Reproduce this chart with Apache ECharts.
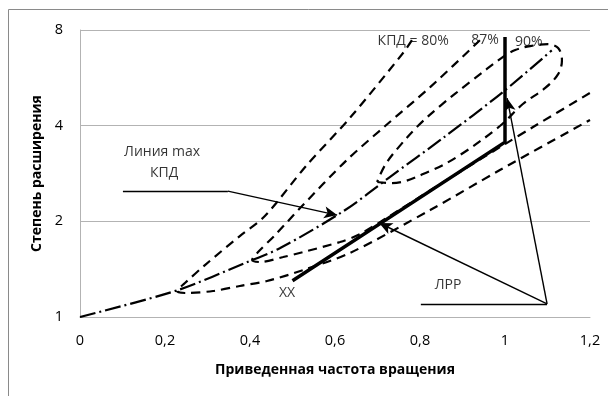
<!DOCTYPE html>
<html><head><meta charset="utf-8">
<script src="https://cdn.jsdelivr.net/npm/echarts@6/dist/echarts.min.js"></script>
<style>html,body{margin:0;padding:0;background:#fff}#c{width:608px;height:396px}</style>
</head><body><div id="c"></div>
<script>
const FONT = '"Open Sans", sans-serif';
const xAxisTitle = 'Приведенная частота вращения';
const yAxisTitle = 'Степень расширения';
const yTicks = [1, 2, 4, 8];
const xMin = 0, xMax = 1.2, xStep = 0.2;

// Линия max КПД (штрихпунктир)
const maxEffX = [0, 0.231, 0.388, 0.471, 0.624, 0.729, 0.854, 0.995, 1.11];
const maxEffY = [1.00, 1.216, 1.479, 1.648, 2.171, 2.757, 3.657, 5.105, 6.9];

// КПД = 80%
const eff80X = [0.781, 0.762, 0.635, 0.534, 0.435, 0.376, 0.294, 0.247, 0.228, 0.247, 0.313, 0.376, 0.440, 0.525, 0.635, 0.824, 0.988, 1.2];
const eff80Y = [7.43, 6.82, 4.23, 3.01, 2.078, 1.798, 1.457, 1.279, 1.207, 1.190, 1.207, 1.252, 1.298, 1.405, 1.590, 2.171, 2.900, 4.17];

// КПД = 87%
const eff87X = [0.941, 0.824, 0.718, 0.628, 0.518, 0.459, 0.419, 0.405, 0.424, 0.478, 0.525, 0.612, 0.659, 0.753, 0.871, 1.0, 1.066, 1.2];
const eff87Y = [7.43, 5.29, 3.99, 3.12, 2.202, 1.811, 1.601, 1.511, 1.489, 1.544, 1.601, 1.722, 1.824, 2.18, 2.74, 3.50, 3.96, 5.07];

// КПД = 90% (замкнутый контур)
const eff90X = [0.699, 0.734, 0.824, 0.894, 0.988, 1.042, 1.094, 1.125, 1.134, 1.125, 1.101, 1.059, 1.024, 0.998, 0.918, 0.847, 0.795, 0.748, 0.718, 0.699];
const eff90Y = [2.659, 2.639, 2.880, 3.233, 3.99, 4.68, 5.25, 5.81, 6.43, 7.02, 7.22, 7.12, 6.92, 6.62, 5.49, 4.61, 3.99, 3.40, 3.01, 2.659];

// ЛРР (линия рабочих режимов)
const lrrX = [0.5, 1.0, 1.0];
const lrrY = [1.30, 3.55, 7.6];

// Выноски (в координатах данных)
const leaderLines = [
  [[0.101, 2.49], [0.348, 2.49]],
  [[0.802, 1.099], [1.099, 1.099]]
];
const arrowLines = [
  [[0.348, 2.49], [0.605, 2.093]],
  [[1.099, 1.099], [0.704, 1.976]],
  [[1.099, 1.099], [1.005, 4.88]]
];
const labelTexts = ['Линия max', 'КПД', 'XX', 'ЛРР', 'КПД = 80%', '87%', '90%'];
const labelX = [0.193, 0.198, 0.487, 0.866, 0.784, 0.953, 1.056];
const labelY = [3.30, 2.84, 1.19, 1.261, 7.38, 7.43, 7.33];

const zip = (xs, ys) => xs.map((x, i) => [x, ys[i]]);
const dashed = { color: '#000', width: 2.2, type: [9, 6] };
const lineBase = { type: 'line', showSymbol: false, symbol: 'none', silent: true, z: 3 };

const chart = echarts.init(document.getElementById('c'), null, { renderer: 'canvas' });
chart.setOption({
  animation: false,
  backgroundColor: '#fff',
  textStyle: { fontFamily: FONT },
  graphic: [{
    type: 'rect', shape: { x: 8.5, y: 9.5, width: 700, height: 500 },
    style: { fill: 'none', stroke: '#8a8a8a', lineWidth: 1 }, silent: true, z: 0
  }],
  grid: { left: 80, right: 18, top: 30, bottom: 79 },
  xAxis: {
    type: 'value', min: xMin, max: xMax, interval: xStep,
    name: xAxisTitle, nameLocation: 'middle', nameGap: 46,
    nameTextStyle: { fontFamily: FONT, fontSize: 14, fontWeight: 'bold', color: '#000' },
    axisLine: { show: true, onZero: false, lineStyle: { color: '#b3b3b3', width: 1 } },
    axisTick: { show: false },
    splitLine: { show: false },
    axisLabel: {
      margin: 16, fontFamily: FONT, fontSize: 14.5, color: '#000',
      formatter: v => String(+(+v).toFixed(1)).replace('.', ',')
    }
  },
  yAxis: {
    type: 'log', logBase: 2, min: yTicks[0], max: yTicks[yTicks.length - 1],
    name: yAxisTitle, nameLocation: 'middle', nameGap: 30,
    nameTextStyle: { fontFamily: FONT, fontSize: 14, fontWeight: 'bold', color: '#000' },
    axisLine: { show: true, lineStyle: { color: '#b3b3b3', width: 1 } },
    axisTick: { show: false },
    splitLine: { show: true, lineStyle: { color: '#b3b3b3', width: 1 } },
    axisLabel: { margin: 17, fontFamily: FONT, fontSize: 14.5, color: '#000',
      formatter: v => yTicks.includes(Math.round(v)) ? String(Math.round(v)) : '' }
  },
  series: [
    Object.assign({}, lineBase, { name: 'max', data: zip(maxEffX, maxEffY), smooth: 0.3,
      lineStyle: { color: '#000', width: 2.2, type: [16, 4, 2, 4] } }),
    Object.assign({}, lineBase, { name: '80', data: zip(eff80X, eff80Y), smooth: 0.3, lineStyle: dashed }),
    Object.assign({}, lineBase, { name: '87', data: zip(eff87X, eff87Y), smooth: 0.3, lineStyle: dashed }),
    Object.assign({}, lineBase, { name: '90', data: zip(eff90X, eff90Y), smooth: 0.35, lineStyle: dashed }),
    Object.assign({}, lineBase, { name: 'lrr', data: zip(lrrX, lrrY), smooth: false, z: 5,
      lineStyle: { color: '#000', width: 3.5, type: 'solid', join: 'miter' } }),
    {
      type: 'line', data: [], silent: true, z: 6,
      markLine: {
        silent: true, animation: false, symbol: ['none', 'none'],
        label: { show: false },
        lineStyle: { color: '#000', width: 1.4, type: 'solid' },
        data: leaderLines.map(p => [{ coord: p[0] }, { coord: p[1] }])
      }
    },
    {
      type: 'line', data: [], silent: true, z: 6,
      markLine: {
        silent: true, animation: false, symbol: ['none', 'arrow'], symbolSize: [9, 13],
        label: { show: false },
        lineStyle: { color: '#000', width: 1.4, type: 'solid' },
        data: arrowLines.map(p => [{ coord: p[0] }, { coord: p[1] }])
      }
    },
    {
      type: 'scatter', symbolSize: 0, silent: true, z: 7,
      data: labelTexts.map((t, i) => ({ value: [labelX[i], labelY[i]], label: { formatter: t } })),
      label: { show: true, position: 'inside', color: '#000', fontFamily: FONT, fontSize: 14 }
    }
  ]
});
</script></body></html>
